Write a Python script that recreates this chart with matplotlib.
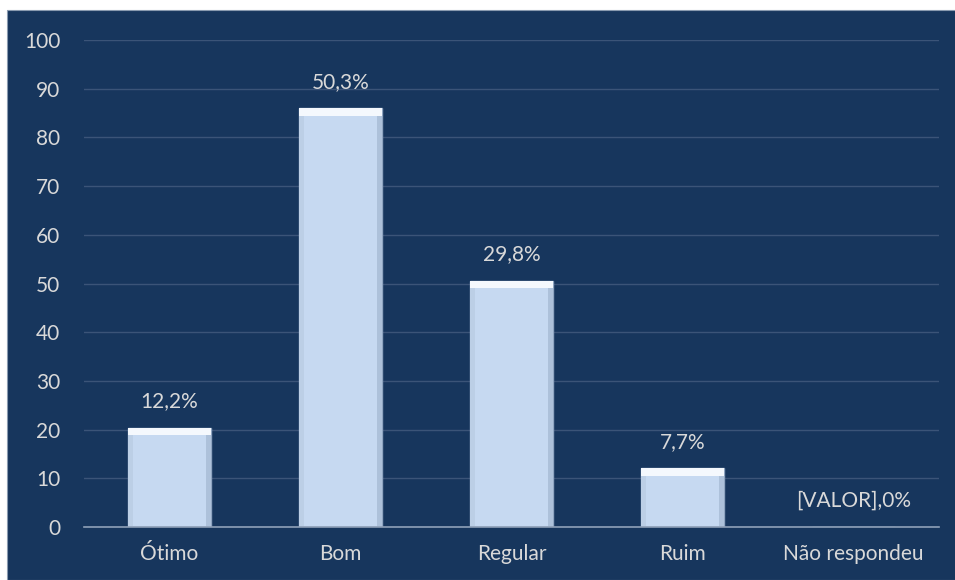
import matplotlib
matplotlib.use('Agg')
import matplotlib.pyplot as plt
from matplotlib.patches import Rectangle

categories = ['Ótimo', 'Bom', 'Regular', 'Ruim', 'Não respondeu']
values = [20.4, 86.0, 50.6, 12.1, 0.0]
labels = ['12,2%', '50,3%', '29,8%', '7,7%', '[VALOR],0%']

bg = '#17365d'
bar_color = '#c6d9f1'
text_color = '#d9d9d9'

plt.rcParams['font.family'] = ['Lato', 'DejaVu Sans']

fig = plt.figure(figsize=(9.55, 5.8), dpi=100, facecolor='white')
fig.patches.append(Rectangle((7 / 955, 0), 1, 1 - 10 / 580, transform=fig.transFigure,
                             facecolor=bg, edgecolor='#8a9bb0', linewidth=0.8, zorder=-1))
ax = fig.add_axes([84 / 955, 1 - 527 / 580, (939 - 84) / 955, (527 - 40) / 580])
ax.set_facecolor(bg)

x = range(len(categories))
width = 0.49
ax.bar(x, values, width=width, color=bar_color, edgecolor='#8ea4c0', linewidth=1.0, zorder=3)
# bevel: bright top strip and shaded sides
top_h = [min(v, 1.6) for v in values]
ax.bar(x, top_h, width=width, bottom=[v - t for v, t in zip(values, top_h)],
       color='#f4f8fd', linewidth=0, zorder=4)
side_w = 0.03
ax.bar([i + width / 2 - side_w / 2 for i in x], [max(v - 1.6, 0) for v in values], width=side_w,
       color='#adc1da', linewidth=0, zorder=4)
ax.bar([i - width / 2 + side_w / 2 for i in x], [max(v - 1.6, 0) for v in values], width=side_w,
       color='#bccfe6', linewidth=0, zorder=4)

for i, (v, lab) in enumerate(zip(values, labels)):
    ax.text(i, v + 3.3, lab, ha='center', va='bottom', color=text_color, fontsize=15)

ax.set_xlim(-0.5, len(categories) - 0.5)
ax.set_ylim(0, 100)
ax.set_yticks(range(0, 101, 10))
ax.set_xticks(list(x))
ax.set_xticklabels(categories)
ax.tick_params(colors=text_color, labelsize=15, length=0)
ax.tick_params(axis='y', pad=17)
ax.tick_params(axis='x', pad=12)
ax.grid(axis='y', color='#3b5478', linewidth=1.0, zorder=0)
for s in ['top', 'right', 'left']:
    ax.spines[s].set_visible(False)
ax.spines['bottom'].set_color('#8ea0b8')
ax.spines['bottom'].set_linewidth(1.2)
ax.spines['bottom'].set_zorder(5)

plt.savefig('out.png', dpi=100, facecolor=fig.get_facecolor())
